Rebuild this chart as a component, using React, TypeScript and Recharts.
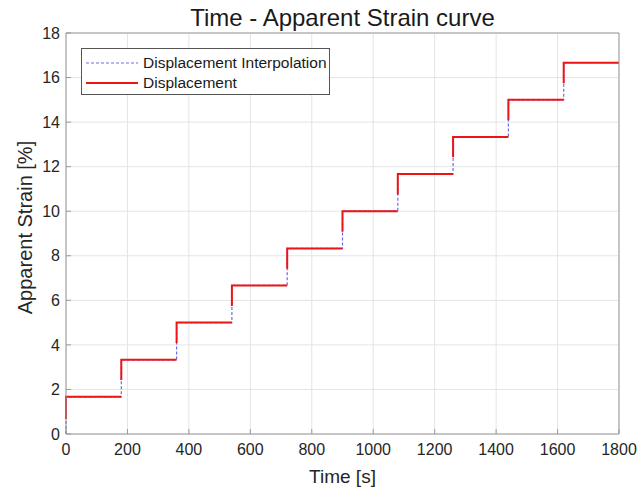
import React from 'react';
import { LineChart, Line, XAxis, YAxis, CartesianGrid } from 'recharts';

// step times [s] and the strain plateau reached at each step [%]
const stepTimes = [0, 180, 360, 540, 720, 900, 1080, 1260, 1440, 1620, 1800];
const strainLevels = [1.67, 3.33, 5.0, 6.67, 8.33, 10.0, 11.67, 13.33, 15.0, 16.67];
// where the measured (red) displacement trace picks up on each rise
const measuredStart = [0.67, 2.42, 4.08, 5.75, 7.42, 9.08, 10.75, 12.42, 14.08, 15.75];

const xTicks = [0, 200, 400, 600, 800, 1000, 1200, 1400, 1600, 1800];
const yTicks = [0, 2, 4, 6, 8, 10, 12, 14, 16, 18];

const FONT = '"Liberation Sans", Arial, Helvetica, sans-serif';
const RED = '#ee1414';
const BLUE = '#6a6af2';
const AXIS = '#9a9a9a';

type Pt = { t: number; y: number | null };

const interpData: Pt[] = [{ t: 0, y: 0 }];
strainLevels.forEach((v, i) => {
  interpData.push({ t: stepTimes[i], y: v });
  interpData.push({ t: stepTimes[i + 1], y: v });
});

const measuredData: Pt[] = [];
strainLevels.forEach((v, i) => {
  measuredData.push({ t: stepTimes[i], y: measuredStart[i] });
  measuredData.push({ t: stepTimes[i], y: v });
  measuredData.push({ t: stepTimes[i + 1], y: v });
  measuredData.push({ t: stepTimes[i + 1], y: null });
});

const tickStyle = { fill: '#262626', fontSize: 16, fontFamily: FONT };

export default function App() {
  return (
    <div style={{ position: 'absolute', left: 0, top: 0, width: 641, height: 489, background: '#fff', fontFamily: FONT }}>
      <div style={{ position: 'absolute', left: 66, width: 553, top: 4, textAlign: 'center', fontSize: 24, color: '#1a1a1a', lineHeight: '28px' }}>
        Time - Apparent Strain curve
      </div>
      <LineChart width={641} height={489} margin={{ top: 32, right: 21, left: 0, bottom: 0 }}>
        <CartesianGrid stroke="#e4e4e4" strokeWidth={1} />
        <XAxis
          dataKey="t"
          type="number"
          domain={[0, 1800]}
          ticks={xTicks}
          height={55}
          stroke={AXIS}
          tickSize={-5}
          tickMargin={15}
          tick={tickStyle}
          label={{ value: 'Time [s]', position: 'insideBottom', offset: 6, fill: '#262626', fontSize: 19, fontFamily: FONT }}
        />
        <XAxis xAxisId="top" orientation="top" dataKey="t" type="number" domain={[0, 1800]} ticks={xTicks} height={1} stroke={AXIS} tickSize={-5} tick={false} />
        <YAxis
          type="number"
          domain={[0, 18]}
          ticks={yTicks}
          width={66}
          stroke={AXIS}
          tickSize={-5}
          tickMargin={11}
          tick={tickStyle}
          label={{ value: 'Apparent Strain [%]', angle: -90, position: 'center', dx: -8, dy: -6, fill: '#262626', fontSize: 20, fontFamily: FONT }}
        />
        <YAxis yAxisId="right" orientation="right" type="number" domain={[0, 18]} ticks={yTicks} width={1} stroke={AXIS} tickSize={-5} tick={false} />
        <Line data={interpData} dataKey="y" type="linear" stroke={BLUE} strokeWidth={1.2} strokeDasharray="3 2" dot={false} isAnimationActive={false} />
        <Line data={measuredData} dataKey="y" type="linear" stroke={RED} strokeWidth={2} dot={false} connectNulls={false} isAnimationActive={false} />
      </LineChart>
      <div style={{ position: 'absolute', left: 81, top: 48, width: 247, height: 45, border: '1px solid #555', background: '#fff', fontSize: 15.5, color: '#1a1a1a' }}>
        <div style={{ position: 'absolute', left: 4, top: 4, height: 20, display: 'flex', alignItems: 'center' }}>
          <svg width={52} height={4}><line x1={0} y1={2} x2={52} y2={2} stroke={BLUE} strokeWidth={1.2} strokeDasharray="3 2" /></svg>
          <span style={{ marginLeft: 5 }}>Displacement Interpolation</span>
        </div>
        <div style={{ position: 'absolute', left: 4, top: 24, height: 20, display: 'flex', alignItems: 'center' }}>
          <svg width={52} height={4}><line x1={0} y1={2} x2={52} y2={2} stroke={RED} strokeWidth={2} /></svg>
          <span style={{ marginLeft: 5 }}>Displacement</span>
        </div>
      </div>
    </div>
  );
}
